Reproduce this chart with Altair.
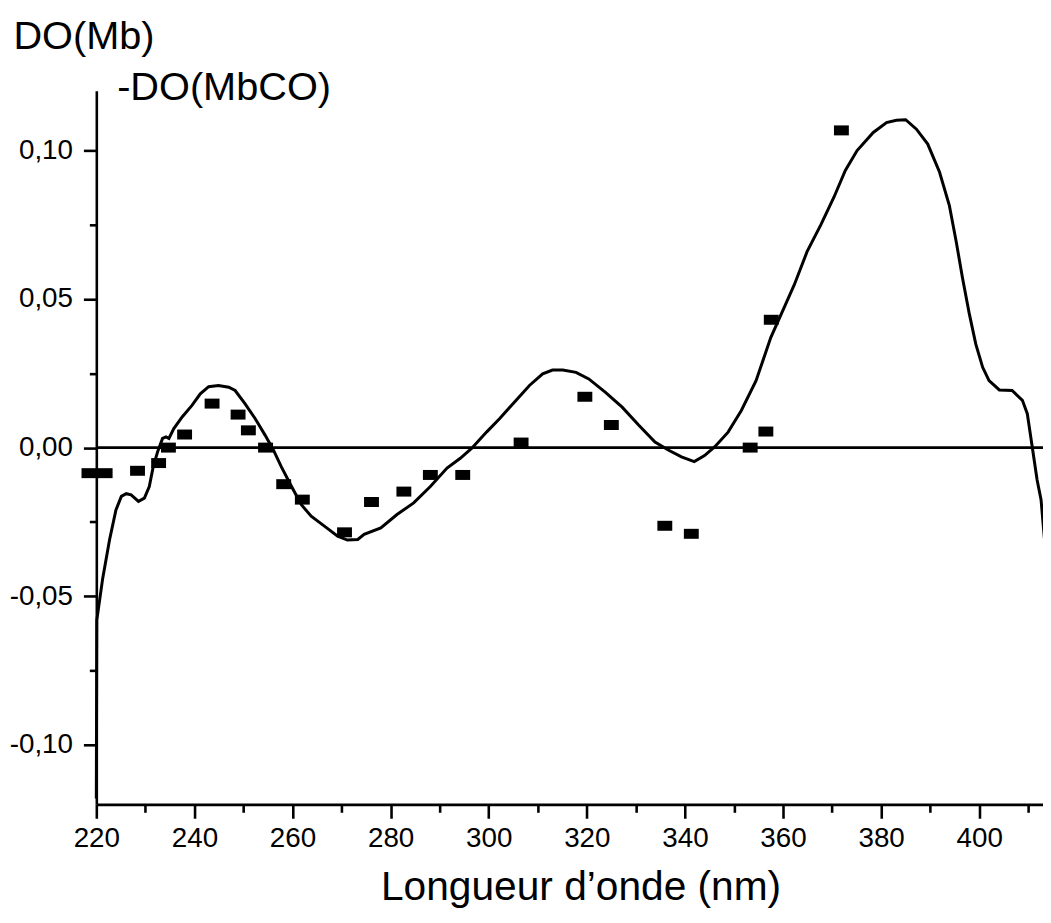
import altair as alt
import pandas as pd

# Spectrum curve (wavelength nm, DO(Mb)-DO(MbCO))
curve_nm = [220.0, 220.1, 221.3, 222.7, 224.0, 225.1, 226.1, 227.1, 228.6, 229.8,
            230.8, 231.6, 232.5, 233.5, 234.2, 234.8, 235.8, 237.5, 239.5, 241.2,
            242.9, 244.9, 247.0, 248.3, 250.3, 252.4, 254.4, 256.1, 257.7, 259.8,
            261.8, 263.8, 266.5, 269.2, 271.2, 273.3, 274.6, 278.0, 281.3, 284.7,
            288.1, 291.5, 294.2, 296.5, 299.6, 302.2, 304.9, 308.3, 311.0, 313.0,
            315.1, 317.8, 320.4, 323.8, 327.2, 330.6, 333.9, 336.6, 339.3, 341.9,
            344.0, 346.1, 348.8, 351.5, 354.5, 357.5, 360.2, 362.3, 364.9, 367.7,
            370.4, 372.7, 375.1, 378.4, 381.1, 383.1, 385.0, 387.2, 389.5, 391.9,
            393.9, 395.3, 396.6, 398.0, 399.3, 400.7, 402.0, 404.1, 406.7, 408.8,
            409.8, 410.8, 411.8, 412.6, 413.3]
curve_do = [-0.118, -0.058, -0.044, -0.031, -0.021, -0.0164, -0.0155, -0.0159, -0.0181, -0.0170,
            -0.0131, -0.0064, -0.0014, 0.0031, 0.0036, 0.0031, 0.0064, 0.0103, 0.0142, 0.0181,
            0.0205, 0.0209, 0.0203, 0.0192, 0.0148, 0.0097, 0.0042, -0.0008, -0.0064, -0.0131,
            -0.0192, -0.0231, -0.0264, -0.0298, -0.0311, -0.0309, -0.0292, -0.0270, -0.0225, -0.0186,
            -0.0131, -0.0069, -0.0036, -0.0003, 0.0053, 0.0097, 0.0147, 0.0209, 0.0248, 0.0261,
            0.0261, 0.0253, 0.0231, 0.0186, 0.0136, 0.0075, 0.0019, -0.0008, -0.0031, -0.0047,
            -0.0027, 0.0003, 0.0052, 0.0125, 0.0225, 0.0370, 0.0470, 0.0548, 0.0659, 0.0749,
            0.0843, 0.0932, 0.0999, 0.1060, 0.1093, 0.1101, 0.1103, 0.1071, 0.1021, 0.0927,
            0.0815, 0.0693, 0.0570, 0.0448, 0.0348, 0.0270, 0.0225, 0.0194, 0.0192, 0.0159,
            0.0114, 0.0003, -0.0109, -0.0175, -0.0309]

# Measured points (squares)
pts_nm = [218.5, 221.8, 228.4, 232.7, 234.7, 238.0, 243.6, 248.9, 251.0, 254.5,
          258.2, 262.0, 270.6, 276.1, 282.7, 288.1, 294.7, 306.6, 319.6, 325.0,
          335.9, 341.3, 353.3, 356.5, 357.6, 371.9]
pts_do = [-0.0086, -0.0086, -0.0078, -0.0052, 0.0000, 0.0044, 0.0148, 0.0111, 0.0058, 0.0000,
          -0.0123, -0.0175, -0.0285, -0.0183, -0.0148, -0.0092, -0.0092, 0.0017, 0.0171, 0.0076,
          -0.0263, -0.0290, 0.0000, 0.0054, 0.0430, 0.1067]

x_ticks = [220, 230, 240, 250, 260, 270, 280, 290, 300, 310, 320, 330, 340, 350,
           360, 370, 380, 390, 400, 410]
y_ticks = [-0.1, -0.075, -0.05, -0.025, 0.0, 0.025, 0.05, 0.075, 0.1]
zero_line = [0.0]
y_title_lines = ["DO(Mb)", "-DO(MbCO)"]

curve_df = pd.DataFrame({"nm": curve_nm, "do": curve_do})
pts_df = pd.DataFrame({"nm": pts_nm, "do": pts_do})
zero_df = pd.DataFrame({"do": zero_line})
title2_df = pd.DataFrame({"t": [y_title_lines[1]]})

FONT = "Liberation Sans"

y_major = "abs(datum.value*20 - round(datum.value*20)) < 0.000001"
x_axis = alt.Axis(
    values=x_ticks,
    labelExpr="datum.value % 20 == 0 ? datum.label : ''",
    tickSize={"condition": {"test": "datum.value % 20 == 0", "value": 14}, "value": 8},
    labelPadding=6,
    labelFontSize=28,
    labelFlush=False,
    title="Longueur d\u2019onde (nm)",
    titleFontSize=41,
    titleFontWeight="normal",
    titleBaseline="alphabetic",
    titleY=96,
    titleX=488,
    grid=False,
)
y_axis = alt.Axis(
    values=y_ticks,
    labelExpr=f"{y_major} ? (datum.value < 0 ? '-' : '') + replace(format(abs(datum.value), '.2f'), '.', ',') : ''",
    tickSize={"condition": {"test": y_major, "value": 13}, "value": 7},
    labelPadding=11,
    labelFontSize=28,
    labelFlush=False,
    title=y_title_lines[0],
    titleFontSize=40,
    titleFontWeight="normal",
    titleAngle=0,
    titleAlign="left",
    titleBaseline="alphabetic",
    titleX=-84,
    titleY=-43,
    grid=False,
)

xs = alt.Scale(domain=[220, 413], nice=False, zero=False)
ys = alt.Scale(domain=[-0.12, 0.12], nice=False, zero=False)

line = alt.Chart(curve_df).mark_line(color="black", strokeWidth=3).encode(
    x=alt.X("nm:Q", scale=xs, axis=x_axis),
    y=alt.Y("do:Q", scale=ys, axis=y_axis),
    order="nm:Q",
)
zero = alt.Chart(zero_df).mark_rule(color="black", strokeWidth=2.6).encode(
    y=alt.Y("do:Q", scale=ys),
)
squares = alt.Chart(pts_df).mark_point(
    shape="M-1,-0.67L1,-0.67L1,0.67L-1,0.67Z",
    filled=True, color="black", opacity=1, size=225, strokeWidth=0,
).encode(
    x=alt.X("nm:Q", scale=xs),
    y=alt.Y("do:Q", scale=ys),
)
title2 = alt.Chart(title2_df).mark_text(
    font=FONT, fontSize=40, align="left", baseline="alphabetic", color="black",
).encode(
    text="t:N",
    x=alt.value(21),
    y=alt.value(9),
)

chart = alt.layer(line, zero, squares, title2).properties(
    width=954, height=719,
    autosize=alt.AutoSizeParams(type="none"),
    padding={"left": 89, "top": 80, "right": 0, "bottom": 106},
    background="white",
).configure_view(stroke=None).configure_axis(
    domainColor="black", domainWidth=2.6, tickColor="black", tickWidth=2.6,
    labelColor="black", titleColor="black", labelFont=FONT, titleFont=FONT,
)

chart.save("out.html", embed_options={"renderer": "svg", "actions": False})
